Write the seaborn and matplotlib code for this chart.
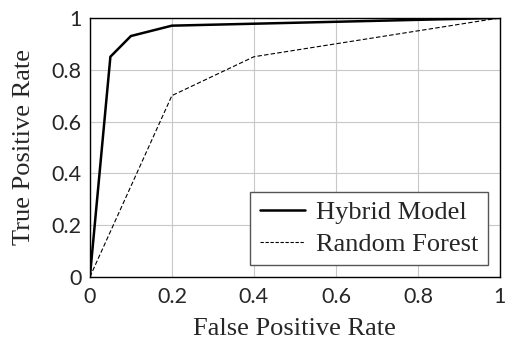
import matplotlib
matplotlib.use("Agg")
import matplotlib.pyplot as plt
import seaborn as sns
import pandas as pd

# ROC points
hybrid_fpr = [0.0, 0.05, 0.1, 0.2, 1.0]
hybrid_tpr = [0.0, 0.85, 0.93, 0.97, 1.0]
rf_fpr = [0.0, 0.2, 0.4, 1.0]
rf_tpr = [0.0, 0.7, 0.85, 1.0]
ticks = [0, 0.2, 0.4, 0.6, 0.8, 1]
tick_labels = ["0", "0.2", "0.4", "0.6", "0.8", "1"]

df = pd.concat([
    pd.DataFrame({"FPR": hybrid_fpr, "TPR": hybrid_tpr, "Model": "Hybrid Model"}),
    pd.DataFrame({"FPR": rf_fpr, "TPR": rf_tpr, "Model": "Random Forest"}),
])

sns.set_style("white")
plt.rcParams["font.family"] = ["Lato", "DejaVu Sans"]

fig = plt.figure(figsize=(5.05, 3.44), dpi=100)
ax = fig.add_axes([0.178, 0.195, 0.812, 0.753])

sns.lineplot(data=df, x="FPR", y="TPR", hue="Model", style="Model",
             palette={"Hybrid Model": "black", "Random Forest": "black"},
             dashes={"Hybrid Model": "", "Random Forest": (4, 2)},
             sort=False, estimator=None, ax=ax, legend=False)
ax.lines[0].set_linewidth(1.8)
ax.lines[1].set_linewidth(0.8)

ax.set_xlim(0, 1)
ax.set_ylim(0, 1)
ax.set_xticks(ticks)
ax.set_yticks(ticks)
ax.set_xticklabels(tick_labels, fontsize=15.5)
ax.set_yticklabels(tick_labels, fontsize=15.5)
ax.tick_params(axis="y", length=4, width=0.8, color="#b0b0b0", pad=2)
ax.tick_params(axis="x", length=0, pad=7)
ax.grid(True, color="#c8c8c8", linewidth=0.8)
for s in ax.spines.values():
    s.set_color("black")
    s.set_linewidth(1.0)

serif = ["Liberation Serif", "DejaVu Serif"]
ax.set_xlabel("False Positive Rate", fontsize=19, family=serif, labelpad=8)
ax.set_ylabel("True Positive Rate", fontsize=19, family=serif, labelpad=12)

handles = [plt.Line2D([0], [0], color="black", lw=1.8),
           plt.Line2D([0], [0], color="black", lw=0.8, dashes=(3, 1.5))]
leg = ax.legend(handles, ["Hybrid Model", "Random Forest"], loc="lower right",
                prop={"family": serif, "size": 19}, frameon=True, fancybox=False,
                edgecolor="#555555", framealpha=1, handlelength=1.7,
                borderaxespad=0.45, labelspacing=0.3, handletextpad=0.45, borderpad=0.35)
leg.get_frame().set_linewidth(1.0)

fig.savefig("out.png", dpi=100)
